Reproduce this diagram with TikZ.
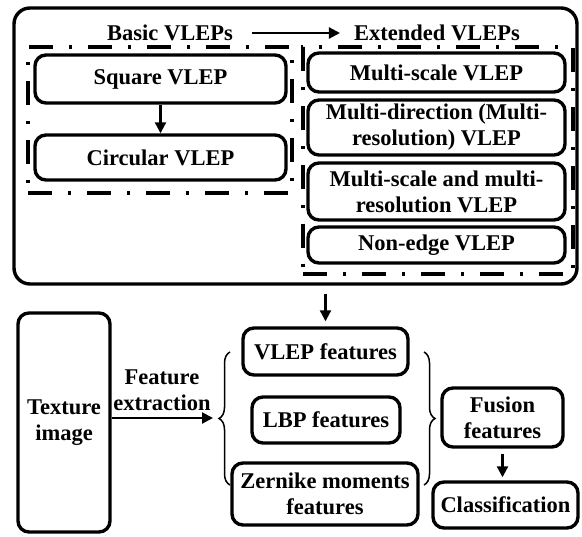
\documentclass[tikz,border=0pt]{standalone}
\usepackage{fontspec}
\setmainfont{Liberation Serif}
\usetikzlibrary{arrows.meta,decorations.pathreplacing}
\begin{document}
\begin{tikzpicture}[x=1pt,y=-1pt,
  font=\fontsize{22.5}{26}\selectfont\bfseries,
  box/.style={draw,line width=3.4pt,rounded corners=11pt,align=center,inner sep=0pt},
  dashbox/.style={draw,line width=3.4pt,dash pattern=on 24pt off 16pt on 3pt off 16pt,inner sep=0pt},
  txt/.style={align=center,inner sep=0pt},
  arr/.style={line width=2.2pt,-{Triangle[length=11pt,width=11pt]}},
  brc/.style={line width=1.5pt,decorate,decoration={brace,amplitude=11pt}}]
\useasboundingbox (0,0) rectangle (582,537);
% top panel
\node[box,rounded corners=16pt,minimum width=563pt,minimum height=276pt] (outer) at (295.5,146) {};
\node[dashbox,minimum width=264pt,minimum height=146pt] (basicbox) at (160,120) {};
\node[dashbox,minimum width=270pt,minimum height=227pt] (extbox) at (438,160.5) {};
\node[txt] (basic) at (170,33) {Basic VLEPs};
\node[txt] (ext) at (437,33) {Extended VLEPs};
\node[box,minimum width=251pt,minimum height=48pt] (square) at (160.5,79) {Square VLEP};
\node[box,minimum width=251pt,minimum height=45pt] (circ) at (160.5,157.5) {Circular VLEP};
\node[box,minimum width=257pt,minimum height=39pt] (ms) at (436.5,72.5) {Multi-scale VLEP};
\node[box,minimum width=257pt,minimum height=55pt] (md) at (436.5,127.5) {Multi-direction (Multi-\\resolution) VLEP};
\node[box,minimum width=257pt,minimum height=57pt] (msmr) at (436.5,191.5) {Multi-scale and multi-\\resolution VLEP};
\node[box,minimum width=257pt,minimum height=36pt] (ne) at (436.5,245) {Non-edge VLEP};
\draw[arr,shorten <=19pt,shorten >=14pt] (basic.east) -- (basic.east -| ext.west);
\draw[arr] (square.south) -- (circ.north);
% bottom panel
\node[box,minimum width=92pt,minimum height=219pt] (tex) at (64,422.5) {Texture\\image};
\node[txt] (fe) at (162,390) {Feature\\extraction};
\node[box,minimum width=165pt,minimum height=47pt] (vf) at (325.5,351.5) {VLEP features};
\node[box,minimum width=148pt,minimum height=46pt] (lf) at (326,420) {LBP features};
\node[box,minimum width=186pt,minimum height=62pt] (zf) at (325,494) {Zernike moments\\features};
\node[box,minimum width=121pt,minimum height=59pt] (fu) at (502.5,417.5) {Fusion\\features};
\node[box,minimum width=145pt,minimum height=46pt] (cl) at (505.5,505) {Classification};
\coordinate (bl1) at (230,485);
\coordinate (bl2) at (230,352);
\coordinate (br1) at (424,352);
\coordinate (br2) at (424,485);
\coordinate (aend) at (213,418);
\draw[brc] (bl1) -- (bl2);
\draw[brc] (br1) -- (br2);
\draw[arr] (tex.east |- aend) -- (aend);
\draw[arr,shorten <=8pt,shorten >=5pt] (outer.south -| vf) -- (vf.north);
\draw[arr,shorten <=5pt,shorten >=3pt] (fu.south) -- (fu.south |- cl.north);
\end{tikzpicture}
\end{document}
